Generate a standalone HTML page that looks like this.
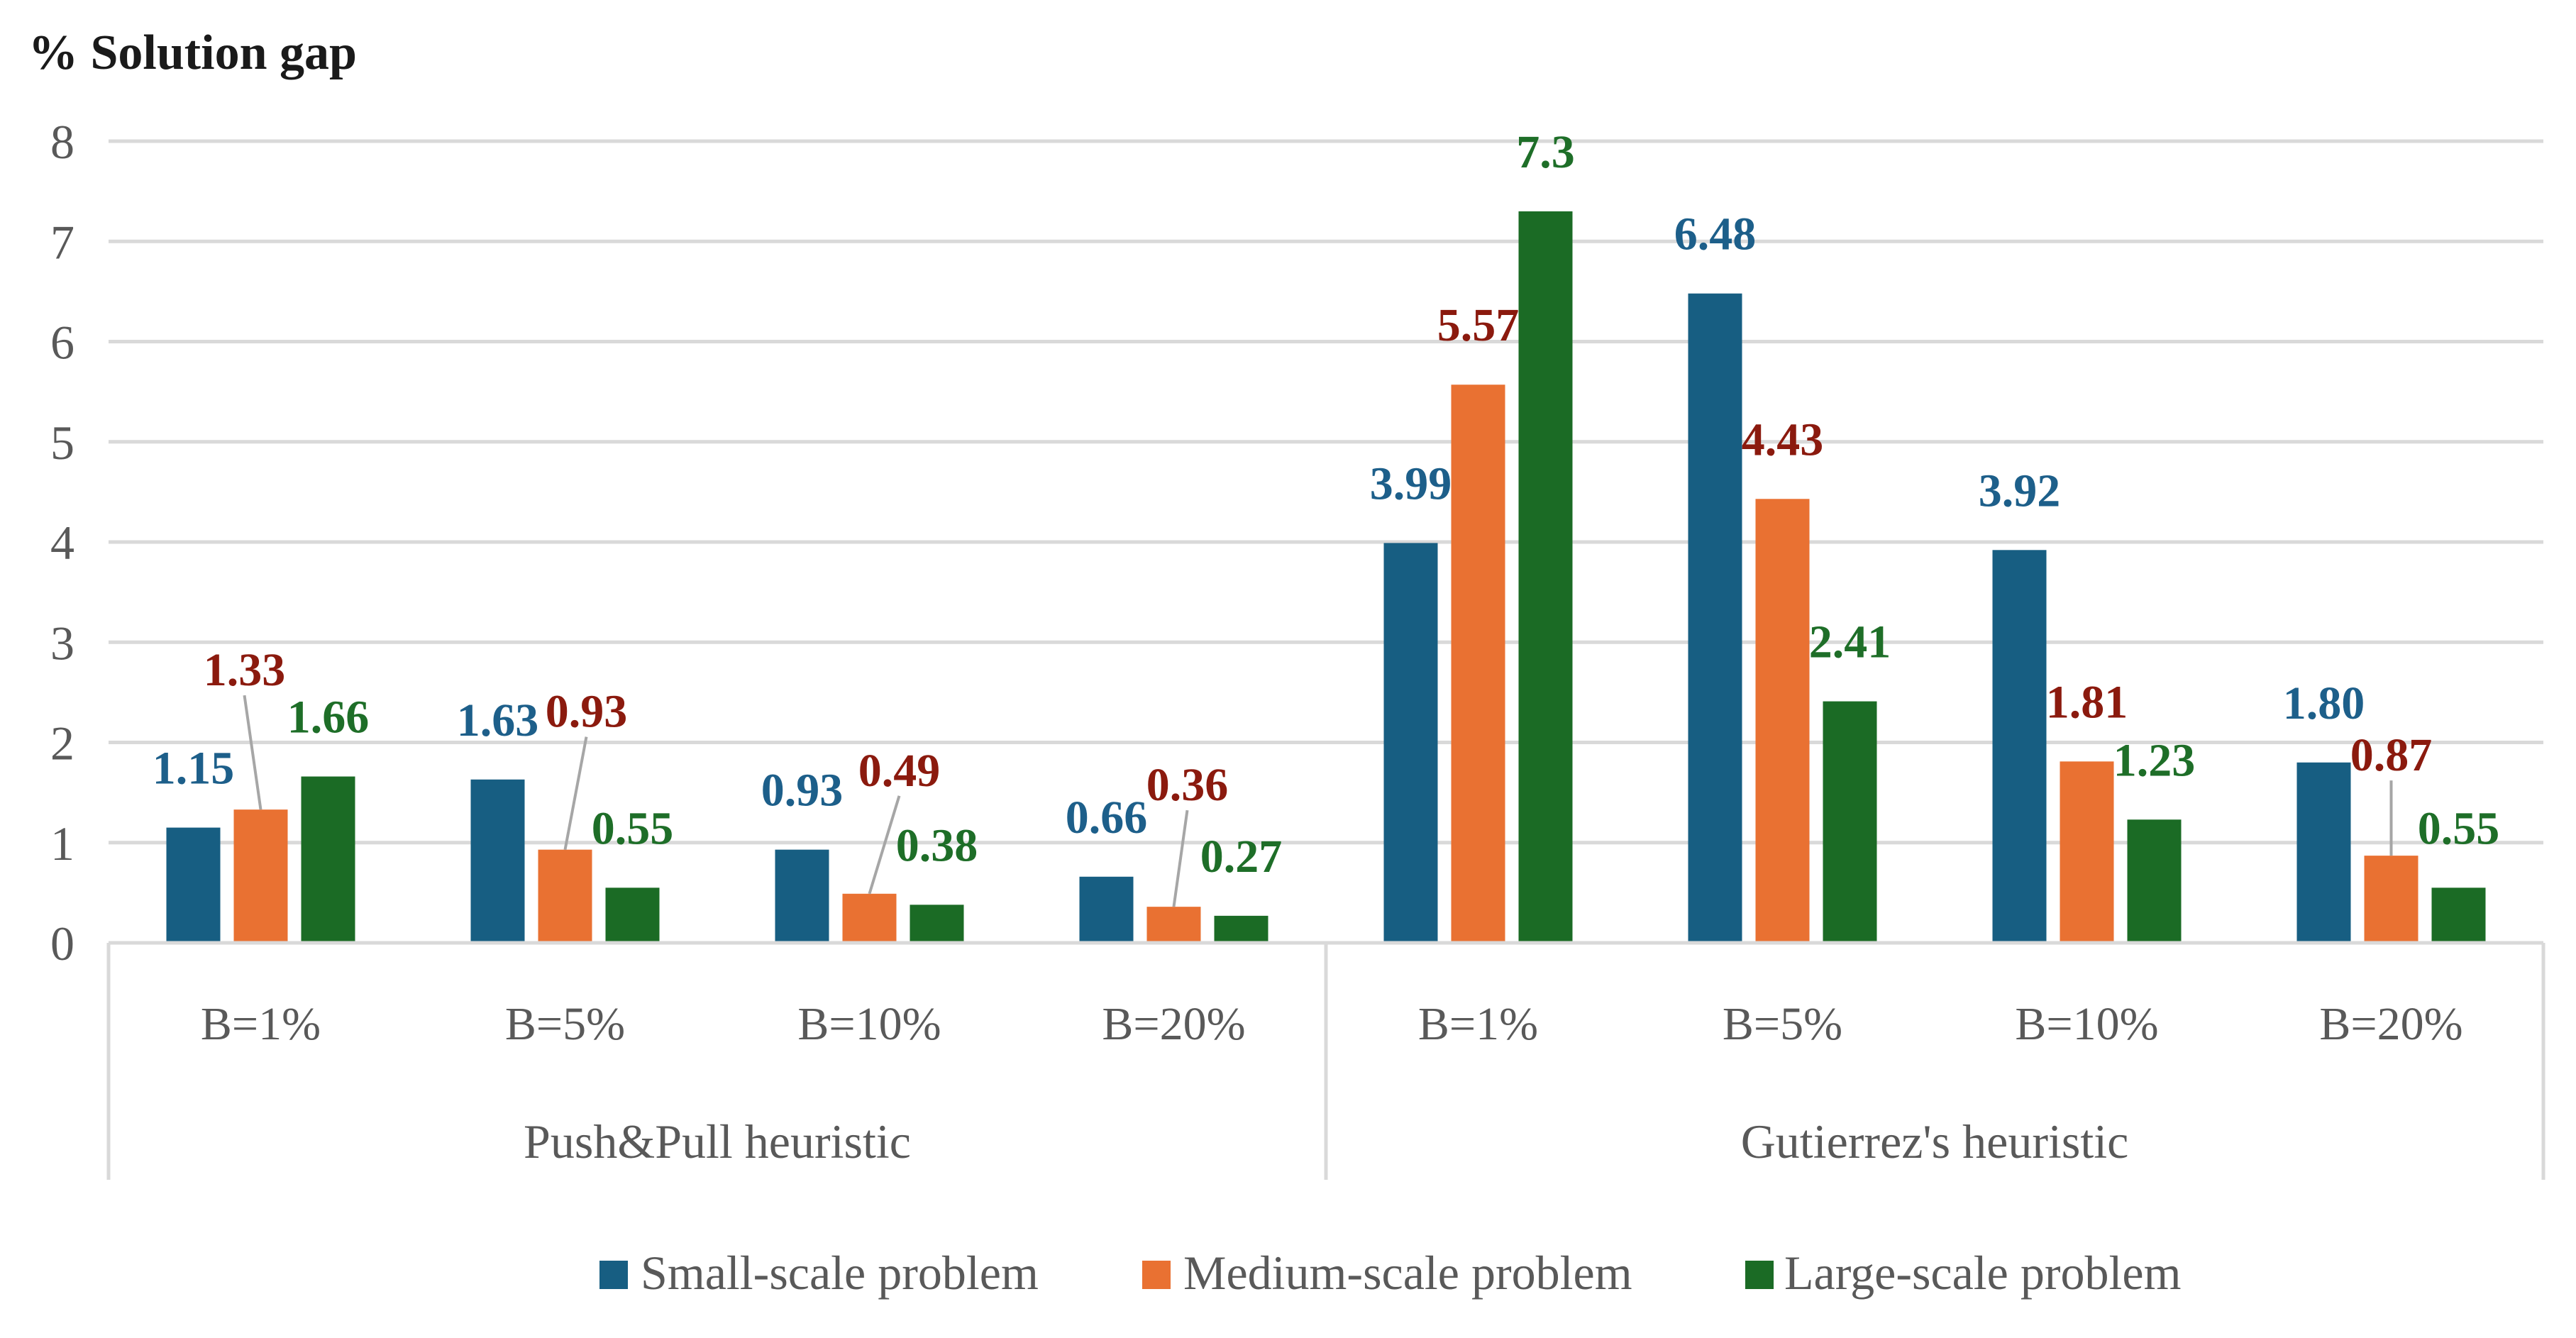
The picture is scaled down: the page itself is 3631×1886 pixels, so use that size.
<!DOCTYPE html>
<html><head><meta charset="utf-8"><style>
html,body{margin:0;padding:0;background:#fff;}
svg{display:block;}
text{font-family:"Liberation Serif",serif;}
</style></head><body>
<svg id="chart" width="3631" height="1886" viewBox="0 0 3631 1886" xmlns="http://www.w3.org/2000/svg">
<text x="40" y="97" font-size="70" font-weight="bold" fill="#1a1a1a">% Solution gap</text>
<g id="grid"></g><g id="bars"></g><g id="labels"></g><g id="axes"></g>
<g>
 <rect x="845" y="1777" width="40" height="40" fill="#175e82"/>
 <text x="903" y="1817" font-size="68" fill="#595959">Small-scale problem</text>
 <rect x="1610" y="1777" width="40" height="40" fill="#e97132"/>
 <text x="1668" y="1817" font-size="68" fill="#595959">Medium-scale problem</text>
 <rect x="2460" y="1777" width="40" height="40" fill="#1b6b25"/>
 <text x="2515" y="1817" font-size="68" fill="#595959">Large-scale problem</text>
</g>
</svg>
<script>
const categories = ["B=1%","B=5%","B=10%","B=20%","B=1%","B=5%","B=10%","B=20%"];
const groups = ["Push&Pull heuristic","Gutierrez's heuristic"];
const smallVals = [1.15,1.63,0.93,0.66,3.99,6.48,3.92,1.80];
const mediumVals = [1.33,0.93,0.49,0.36,5.57,4.43,1.81,0.87];
const largeVals = [1.66,0.55,0.38,0.27,7.3,2.41,1.23,0.55];
const smallLabels = ["1.15","1.63","0.93","0.66","3.99","6.48","3.92","1.80"];
const mediumLabels = ["1.33","0.93","0.49","0.36","5.57","4.43","1.81","0.87"];
const largeLabels = ["1.66","0.55","0.38","0.27","7.3","2.41","1.23","0.55"];
const yTicks = [0,1,2,3,4,5,6,7,8];

const NS="http://www.w3.org/2000/svg";
const L=153,R=3585,Y0=1329,Y8=199,BOT=1663;
const y=v=>Y0-(Y0-Y8)*v/8;
const bandW=(R-L)/categories.length;
const cx=i=>L+bandW*(i+0.5);
const BW=76,GAP=19;
function mk(tag,parent,attrs){const e=document.createElementNS(NS,tag);for(const k in attrs)e.setAttribute(k,attrs[k]);document.getElementById(parent).appendChild(e);return e;}
yTicks.forEach(t=>{
  if(t>0){const g=mk('line','grid',{x1:L,x2:R,y1:y(t),y2:y(t),stroke:'#d9d9d9','stroke-width':5});
  
  }
  const tx=mk('text','axes',{x:88,y:y(t)+24,'font-size':68,fill:'#595959','text-anchor':'middle'});
  tx.textContent=t;
  
  
});
const series=[{v:smallVals,l:smallLabels,c:'#175e82',lc:'#1d5f8a',n:'small'},{v:mediumVals,l:mediumLabels,c:'#e97132',lc:'#8b1a0e',n:'medium'},{v:largeVals,l:largeLabels,c:'#1b6b25',lc:'#1e6e28',n:'large'}];
// label offsets (px) for labels with leader lines: [series][category] = [dx,dy]
const offs={"1-0":[-23,-113],"1-1":[30,-111],"1-2":[42,-90],"1-3":[19,-88],"1-7":[0,-58]};
series.forEach((s,si)=>{
  s.v.forEach((v,i)=>{
    const x=cx(i)+(si-1)*(BW+GAP);
    const b=mk('rect','bars',{x:x-BW/2,y:y(v),width:BW,height:Y0-y(v),fill:s.c});
    
    
    const o=offs[si+'-'+i]||[0,0];
    const lx=x+o[0], ly=y(v)-62+o[1];
    if(offs[si+'-'+i]){
      const ln=mk('line','labels',{x1:lx,y1:ly+14,x2:x,y2:y(v),stroke:'#a6a6a6','stroke-width':4});
      
      
    }
    const t=mk('text','labels',{x:lx,y:ly,'font-size':66,'font-weight':'bold',fill:s.lc,'text-anchor':'middle'});
    t.textContent=s.l[i];
    
    
  });
});
// axes
const ax=mk('line','axes',{x1:L,x2:R,y1:Y0,y2:Y0,stroke:'#d9d9d9','stroke-width':5});


[L,(L+R)/2,R].forEach((xx,k)=>{
  const v=mk('line','axes',{x1:xx,x2:xx,y1:Y0,y2:BOT,stroke:'#d9d9d9','stroke-width':5});
  
  
});
categories.forEach((c,i)=>{
  const t=mk('text','axes',{x:cx(i),y:1465,'font-size':66,fill:'#595959','text-anchor':'middle'});
  t.textContent=c;
  
  
});
groups.forEach((g,k)=>{
  const t=mk('text','axes',{x:L+(R-L)/4*(2*k+1),y:1632,'font-size':68,fill:'#595959','text-anchor':'middle'});
  t.textContent=g;
  
  
});
</script>
</body></html>
